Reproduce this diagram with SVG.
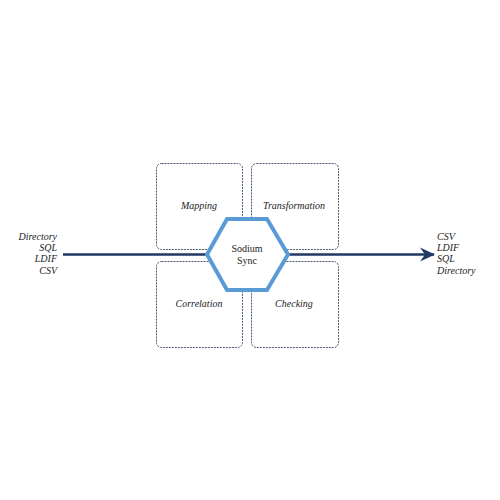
<svg xmlns="http://www.w3.org/2000/svg" width="500" height="500" viewBox="0 0 500 500">
<style>
.box{fill:#ffffff;stroke:#4a5a72;stroke-width:1;stroke-dasharray:2 1}
</style>
<defs>
<marker id="arr" viewBox="0 0 16 16" refX="14" refY="8" markerWidth="16" markerHeight="16" markerUnits="userSpaceOnUse" orient="auto">
<path d="M0,1 L15,8 L0,15 L5,8 Z" fill="#1f3864"/>
</marker>
</defs>
<rect width="500" height="500" fill="#ffffff"/>
<g font-family="Liberation Serif" font-size="10" fill="#222222">
<g id="mapping"><rect class="box" x="156.5" y="163.5" width="86" height="86" rx="5"/><text x="199" y="209" font-style="italic" text-anchor="middle">Mapping</text></g>
<g id="transformation"><rect class="box" x="251.5" y="163.5" width="87" height="86" rx="5"/><text x="294" y="209" font-style="italic" text-anchor="middle">Transformation</text></g>
<g id="correlation"><rect class="box" x="156.5" y="261.5" width="86" height="86" rx="5"/><text x="199" y="307" font-style="italic" text-anchor="middle">Correlation</text></g>
<g id="checking"><rect class="box" x="251.5" y="261.5" width="87" height="86" rx="5"/><text x="294" y="307" font-style="italic" text-anchor="middle">Checking</text></g>
<g id="connectors"><line x1="63" y1="254.5" x2="434" y2="254.5" stroke="#1f3864" stroke-width="2.5" marker-end="url(#arr)"/></g>
<g id="sodium-sync"><polygon points="227,219 267,219 288,254.5 267,290 227,290 207,254.5" fill="#ffffff" stroke="#5b9bd5" stroke-width="4"/><text x="247" y="252" text-anchor="middle">Sodium</text><text x="247" y="264" text-anchor="middle">Sync</text></g>
<g id="sources" font-style="italic" text-anchor="end"><text x="57" y="240">Directory</text><text x="57" y="251">SQL</text><text x="57" y="262">LDIF</text><text x="57" y="274">CSV</text></g>
<g id="targets" font-style="italic"><text x="437" y="240">CSV</text><text x="437" y="251">LDIF</text><text x="437" y="262">SQL</text><text x="437" y="274">Directory</text></g>
</g>
</svg>
